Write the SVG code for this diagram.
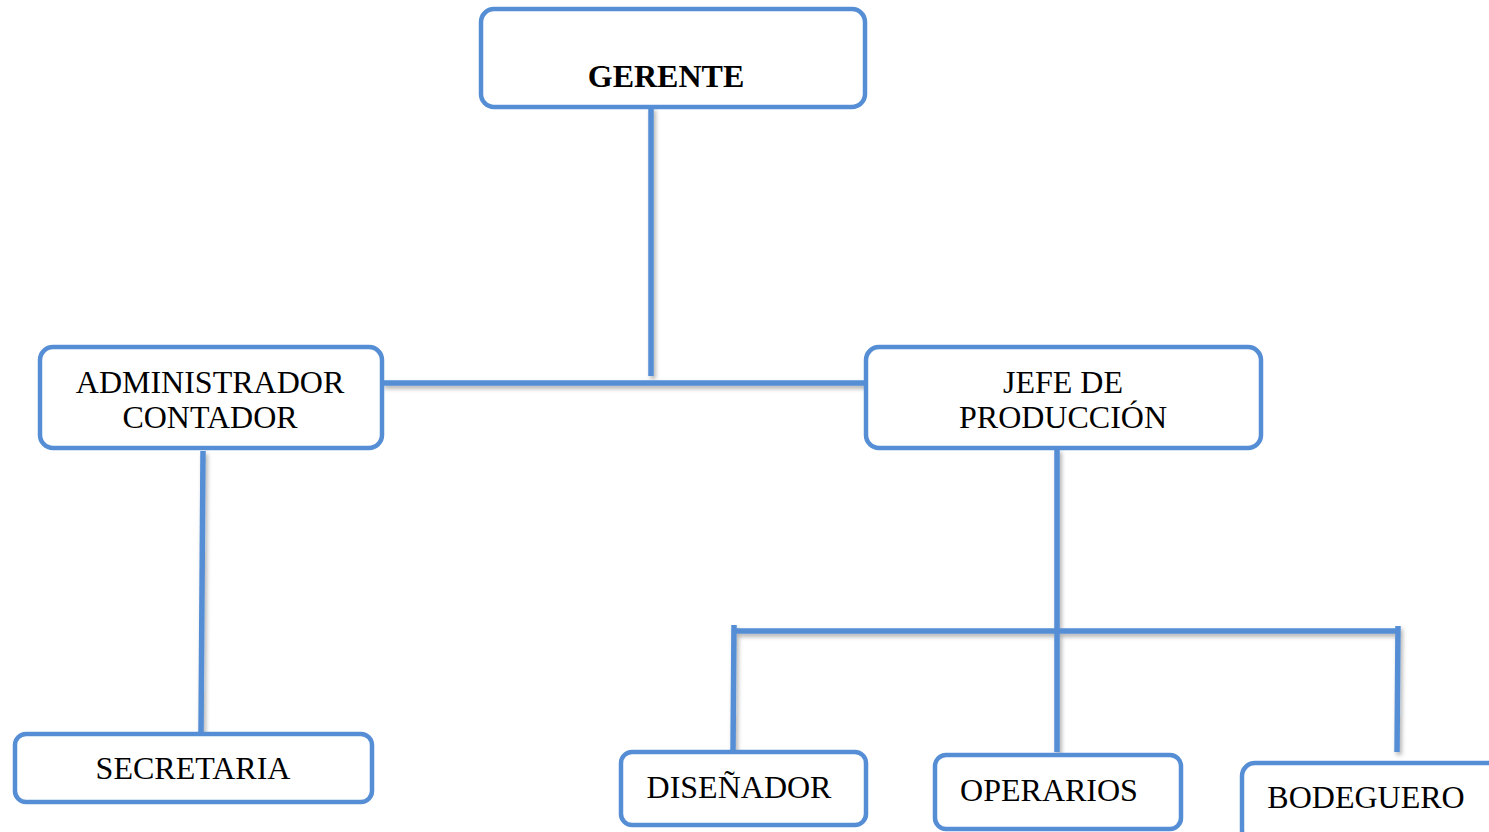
<svg xmlns="http://www.w3.org/2000/svg" width="1489" height="832" viewBox="0 0 1489 832">
<defs>
<filter id="sh" x="-20%" y="-20%" width="140%" height="140%">
<feDropShadow dx="2" dy="3" stdDeviation="2" flood-color="#000" flood-opacity="0.3"/>
</filter>
<style>
.box{fill:#fff;stroke:#558ED5;stroke-width:4.5}
.ln{stroke:#558ED5;stroke-width:5.5;fill:none;stroke-linecap:butt}
.t{font-family:"Liberation Serif","Times New Roman",serif;font-size:32px;fill:#000;text-anchor:middle}
.b{font-weight:bold}
</style>
</defs>
<rect width="1489" height="832" fill="#fff"/>
<g id="connectors" filter="url(#sh)">
<line class="ln" x1="651" y1="107" x2="651" y2="376"/>
<line class="ln" x1="382" y1="383" x2="866" y2="383"/>
<line class="ln" x1="203" y1="451" x2="201" y2="732"/>
<line class="ln" x1="1057" y1="449" x2="1057" y2="752"/>
<line class="ln" x1="734" y1="631" x2="1398" y2="631"/>
<line class="ln" x1="734" y1="625" x2="733" y2="751"/>
<line class="ln" x1="1398" y1="626" x2="1397" y2="752"/>
</g>
<g id="gerente">
<rect class="box" x="481" y="9" width="384" height="98" rx="13"/>
<text class="t b" x="666" y="87">GERENTE</text>
</g>
<g id="administrador">
<rect class="box" x="40" y="347" width="342" height="101" rx="13"/>
<text class="t" x="210" y="393">ADMINISTRADOR</text>
<text class="t" x="210" y="428">CONTADOR</text>
</g>
<g id="jefe">
<rect class="box" x="866" y="347" width="395" height="101" rx="13"/>
<text class="t" x="1063" y="393">JEFE DE</text>
<text class="t" x="1063" y="428">PRODUCCIÓN</text>
</g>
<g id="secretaria">
<rect class="box" x="15" y="734" width="357" height="68" rx="11"/>
<text class="t" x="193" y="779">SECRETARIA</text>
</g>
<g id="disenador">
<rect class="box" x="621" y="752" width="245" height="73" rx="11"/>
<text class="t" x="739" y="798">DISEÑADOR</text>
</g>
<g id="operarios">
<rect class="box" x="935" y="755" width="246" height="74" rx="11"/>
<text class="t" x="1049" y="801">OPERARIOS</text>
</g>
<g id="bodeguero">
<rect class="box" x="1242" y="763" width="260" height="80" rx="13"/>
<text class="t" x="1366" y="808">BODEGUERO</text>
</g>
</svg>
